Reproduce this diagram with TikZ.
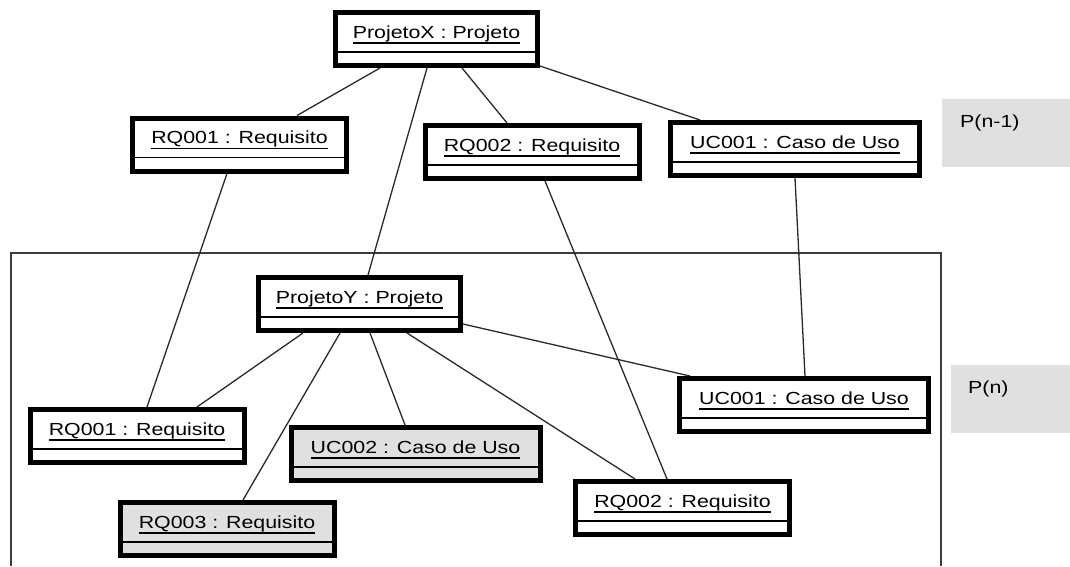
\documentclass[tikz,border=0pt]{standalone}
\usepackage{fontspec}
\newfontfamily\objfont[FakeStretch=1.22]{Liberation Sans}
\usetikzlibrary{backgrounds}

% underlined object name (UML instance notation)
\newlength\objulw
\newcommand\objname[1]{\settowidth\objulw{#1}\rlap{\rule[-5.7pt]{\objulw}{1.3pt}}#1}

\definecolor{boxgray}{RGB}{224,224,224}
\definecolor{inkline}{RGB}{45,40,40}
\definecolor{framegray}{RGB}{60,60,60}

\begin{document}
\begin{tikzpicture}[x=1pt,y=-1pt,
  objbox/.style={draw=black, line width=5pt, fill=white, inner sep=0pt,
    minimum height=53pt, text height=13pt, text depth=15pt,
    font=\objfont\fontsize{17.5pt}{20pt}\selectfont,
    path picture={\draw[line width=1.6pt]
      ([yshift=13.5pt]path picture bounding box.south west) --
      ([yshift=13.5pt]path picture bounding box.south east);}},
  projw/.style={minimum width=202pt},
  reqw/.style={minimum width=214pt},
  ucw/.style={minimum width=249pt},
  shaded/.style={fill=boxgray},
  link/.style={draw=inkline, line width=1.3pt},
  frameline/.style={draw=framegray, line width=1.6pt},
  pbox/.style={fill=boxgray, anchor=north west, inner ysep=0pt,
    align=left, text height=13pt, text depth=25pt,
    font=\objfont\fontsize{17.5pt}{20pt}\selectfont}
]
\useasboundingbox (0,0) rectangle (1070,566);

% level P(n-1)
\node[objbox, projw] (PX) at (436.5,39) {\objname{ProjetoX : Projeto}};
\node[objbox, reqw] (RQ1a) at (239.5,144.5) {\objname{RQ001 : Requisito}};
\node[objbox, reqw] (RQ2a) at (532,152) {\objname{RQ002 : Requisito}};
\node[objbox, ucw] (UC1a) at (795,149) {\objname{UC001 : Caso de Uso}};

% level P(n)
\node[objbox, projw] (PY) at (359.5,304) {\objname{ProjetoY : Projeto}};
\node[objbox, ucw] (UC1b) at (804,405) {\objname{UC001 : Caso de Uso}};
\node[objbox, reqw] (RQ1b) at (137,436) {\objname{RQ001 : Requisito}};
\node[objbox, ucw, shaded] (UC2) at (415.5,454) {\objname{UC002 : Caso de Uso}};
\node[objbox, reqw, shaded] (RQ3) at (227,529) {\objname{RQ003 : Requisito}};
\node[objbox, reqw] (RQ2b) at (682.5,508) {\objname{RQ002 : Requisito}};

% level tags
\node[pbox, minimum width=128pt, minimum height=68pt, text width=92pt, inner xsep=18pt]
  (tagA) at (942,99) {P(n-1)};
\node[pbox, minimum width=119pt, minimum height=68pt, text width=85pt, inner xsep=17pt]
  (tagB) at (951,365) {P(n)};

\begin{pgfonlayer}{background}
  % package frame of P(n)
  \draw[frameline] (11,566) -- (11,253) -- (941,253) -- (941,566);

  % links
  \draw[link] ([xshift=-56.5pt]PX.south) -- ([xshift=57.5pt]RQ1a.north);
  \draw[link] ([xshift=-9.5pt]PX.south) -- ([xshift=8.5pt]PY.north);
  \draw[link] ([xshift=25.5pt]PX.south) -- ([xshift=-25pt]RQ2a.north);
  \draw[link] ([xshift=-3pt,yshift=3pt]PX.south east) -- ([xshift=-95pt]UC1a.north);
  \draw[link] ([xshift=-12.5pt]RQ1a.south) -- ([xshift=10pt]RQ1b.north);
  \draw[link] ([xshift=13pt]RQ2a.south) -- ([xshift=-15.5pt]RQ2b.north);
  \draw[link] (UC1a.south) -- ([xshift=1pt]UC1b.north);
  \draw[link] ([xshift=-56.5pt]PY.south) -- ([xshift=60pt]RQ1b.north);
  \draw[link] ([xshift=-19.5pt]PY.south) -- ([xshift=16pt]RQ3.north);
  \draw[link] ([xshift=10.5pt]PY.south) -- ([xshift=-10.5pt]UC2.north);
  \draw[link] ([xshift=47.5pt]PY.south) -- ([xshift=-47.5pt]RQ2b.north);
  \draw[link] ([yshift=-20pt]PY.east) -- ([xshift=-114pt]UC1b.north);
\end{pgfonlayer}
\end{tikzpicture}
\end{document}
